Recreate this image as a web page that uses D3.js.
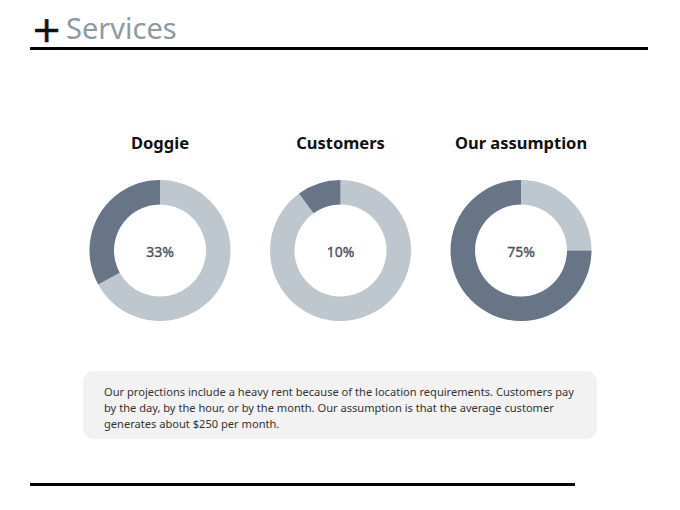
<!DOCTYPE html>
<html>
<head>
<meta charset="utf-8">
<script src="https://cdn.jsdelivr.net/npm/d3@7"></script>
<style>
  body { margin: 0; background: #fff; }
  svg { display: block; }
</style>
</head>
<body>
<div id="chart"></div>
<script>
const categories = ["Doggie", "Customers", "Our assumption"];
const shares = [33, 10, 75];
const noteLines = [
  "Our projections include a heavy rent because of the location requirements. Customers pay",
  "by the day, by the hour, or by the month. Our assumption is that the average customer",
  "generates about $250 per month."
];

function drawChart() {
  const width = 680, height = 510;
  const font = "'Noto Sans', 'Open Sans', sans-serif";

  const svg = d3.select("#chart").append("svg")
    .attr("width", width)
    .attr("height", height);

  // header
  svg.append("text")
    .attr("x", 31.5).attr("y", 42)
    .attr("font-family", "'DejaVu Sans', sans-serif")
    .attr("font-size", 36)
    .attr("fill", "#111")
    .attr("stroke", "#111")
    .attr("stroke-width", 0.7)
    .text("+");
  svg.append("text")
    .attr("x", 66).attr("y", 39)
    .attr("font-family", font)
    .attr("font-size", 29)
    .attr("fill", "#8d9aa3")
    .text("Services");
  svg.append("line")
    .attr("x1", 30).attr("x2", 648)
    .attr("y1", 48.5).attr("y2", 48.5)
    .attr("stroke", "#000").attr("stroke-width", 3);

  // donuts
  const x = d3.scalePoint()
    .domain(categories)
    .range([160, 521]);

  const pct = d3.scaleLinear().domain([0, 100]).range([0, 2 * Math.PI]);

  const arc = d3.arc().innerRadius(46).outerRadius(70.5);

  const cy = 250.5;

  const groups = svg.selectAll("g.donut")
    .data(categories.map((c, i) => ({ name: c, value: shares[i] })))
    .join("g")
    .attr("class", "donut")
    .attr("transform", d => `translate(${x(d.name)},${cy})`);

  groups.append("path")
    .attr("fill", "#bec6ce")
    .attr("d", d => arc({ startAngle: 0, endAngle: 2 * Math.PI - pct(d.value) }));

  groups.append("path")
    .attr("fill", "#687586")
    .attr("d", d => arc({ startAngle: -pct(d.value), endAngle: 0 }));

  groups.append("text")
    .attr("y", 6)
    .attr("text-anchor", "middle")
    .attr("font-family", font)
    .attr("font-size", 14)
    .attr("fill", "#4a515d")
    .attr("stroke", "#4a515d")
    .attr("stroke-width", 0.35)
    .text(d => d.value + "%");

  groups.append("text")
    .attr("y", 149 - cy)
    .attr("text-anchor", "middle")
    .attr("font-family", font)
    .attr("font-size", 16.5)
    .attr("font-weight", 700)
    .attr("fill", "#111")
    .text(d => d.name);

  // note box
  svg.append("rect")
    .attr("x", 83).attr("y", 371)
    .attr("width", 514).attr("height", 68)
    .attr("rx", 10)
    .attr("fill", "#f2f2f2");

  svg.append("g").selectAll("text")
    .data(noteLines)
    .join("text")
    .attr("x", 104)
    .attr("y", (d, i) => 396 + i * 16)
    .attr("font-family", font)
    .attr("font-size", 11.1)
    .attr("fill", "#333")
    .text(d => d);

  svg.append("line")
    .attr("x1", 30).attr("x2", 575)
    .attr("y1", 484.5).attr("y2", 484.5)
    .attr("stroke", "#000").attr("stroke-width", 3);
}
drawChart();
</script>
</body>
</html>
